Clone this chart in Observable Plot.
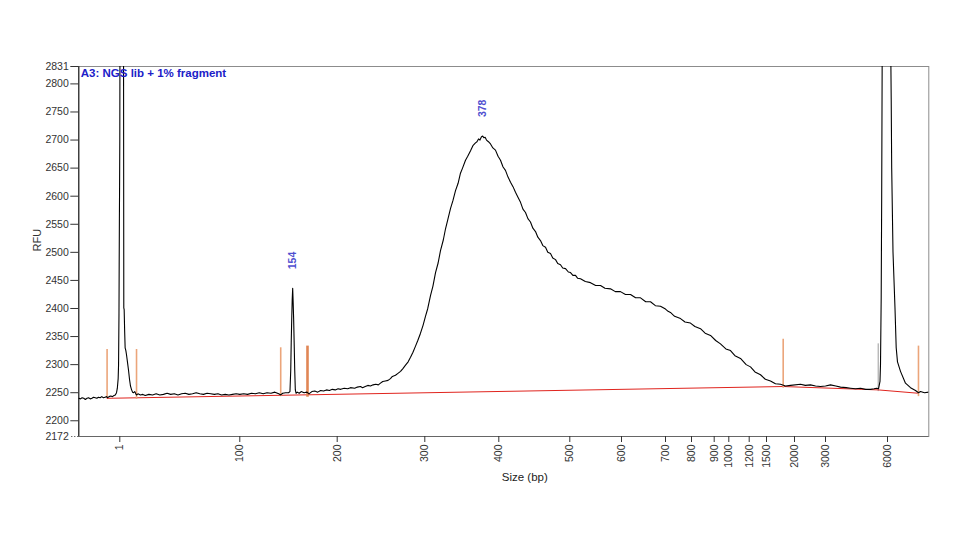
<!DOCTYPE html>
<html><head><meta charset="utf-8">
<script src="https://cdn.jsdelivr.net/npm/d3@7"></script>
<script src="https://cdn.jsdelivr.net/npm/@observablehq/plot@0.6"></script>
<style>html,body{margin:0;padding:0;background:#fff;} #chart svg{display:block}</style>
</head><body><div id="chart"></div>
<script>
// Size ladder (bp) used to calibrate the non-linear size axis
const ladderSize = [0, 1, 100, 200, 300, 400, 500, 600, 700, 800, 900, 1000, 1200, 1500, 2000, 3000, 6000, 9000];
const xTickSizes = [1, 100, 200, 300, 400, 500, 600, 700, 800, 900, 1000, 1200, 1500, 2000, 3000, 6000];
const yTicks = [2200, 2250, 2300, 2350, 2400, 2450, 2500, 2550, 2600, 2650, 2700, 2750, 2800, 2831];
const yMinTick = [2172];

// Electropherogram trace: [size (bp), RFU]
const trace = [
[0,2240],[0.04,2239],[0.08,2241],[0.12,2240],[0.16,2238],[0.2,2240],[0.24,2241],[0.28,2239],[0.32,2240],[0.36,2242],
[0.4,2241],[0.44,2240],[0.48,2242],[0.52,2241],[0.56,2243],[0.6,2241],[0.64,2242],[0.68,2243],[0.7,2241],[0.74,2243],
[0.78,2244],[0.82,2243],[0.86,2245],[0.89,2246],[0.92,2250],[0.94,2258],[0.96,2275],[0.97,2300],[0.98,2390],[0.985,2480],
[0.99,2560],[0.995,2620],[1,2700],[1.2,2950],[1.58,3200],[2.4,3250],[3.2,3200],[4,3050],[4.3,2401],[4.6,2398],
[5,2360],[5.4,2330],[6,2325],[6.5,2318],[7.3,2305],[8.2,2290],[9,2274],[9.8,2262],[10.6,2256],[11.5,2251],
[12.4,2250],[13.3,2252],[14.2,2248],[14.8,2246],[16,2248],[18,2246],[20,2247],[22,2245],[25,2247],[28,2246],
[31,2248],[34,2246],[37,2247],[40,2249],[43,2247],[46,2248],[49,2246],[52,2248],[55,2249],[58,2247],
[61,2248],[64,2250],[67,2248],[70,2247],[73,2249],[76,2248],[79,2247],[82,2248],[85,2246],[88,2247],
[91,2246],[94,2247],[97,2248],[100,2247],[104,2248],[108,2247],[112,2249],[116,2248],[120,2250],[124,2248],
[128,2250],[132,2249],[136,2251],[140,2248],[142,2246],[144,2249],[147,2250],[150,2250],[151.5,2252],[152.3,2290],
[152.8,2340],[153.3,2380],[153.8,2415],[154.3,2436],[154.8,2410],[155.3,2380],[155.8,2340],[156.4,2290],[157,2255],[157.8,2249],
[159,2251],[161,2249],[163,2252],[166,2250],[169,2251],[171,2248],[174,2252],[177,2253],[180,2251],[183,2254],
[186,2253],[189,2255],[192,2254],[195,2256],[198,2255],[201,2257],[204,2256],[208,2258],[212,2257],[215.2,2259],
[220,2258],[223,2260],[226.6,2261],[229,2259],[232,2261],[235,2263],[238,2262],[241,2264],[244,2265],[247,2264],
[249.4,2267],[252,2270],[255,2271],[258,2272],[260.8,2275],[263,2279],[266.5,2281],[269,2284],[272.3,2288],[275,2293],
[278,2299],[281,2305],[283.7,2313],[286.5,2322],[289.4,2333],[292,2343],[295.1,2356],[298,2370],[300.9,2386],[304,2400],
[307.7,2423],[311,2440],[314.5,2464],[318,2481],[321.2,2503],[325,2522],[328,2542],[331,2558],[334.7,2578],[338,2592],
[341.5,2610],[345,2623],[348.2,2641],[351,2650],[355,2664],[358,2671],[361.8,2681],[365,2690],[368.5,2695],[370.5,2697],
[372.6,2702],[374.5,2700],[376.6,2706],[378.2,2707],[380,2704],[381.5,2705],[383.4,2700],[386,2697],[388.8,2693],[392,2686],
[395.5,2682],[399,2671],[402.4,2664],[406,2652],[409.4,2646],[413,2634],[416.5,2625],[420,2617],[423.5,2607],[427,2598],
[430.6,2589],[434,2577],[437.6,2571],[441,2560],[444.6,2554],[448,2543],[451.7,2537],[455,2527],[458.7,2521],[462,2512],
[465.8,2509],[469,2500],[472.8,2498],[476,2490],[479.9,2487],[483,2480],[486.9,2478],[490,2472],[494,2471],[498,2465],
[501.4,2464],[506,2459],[511,2459],[515,2454],[520.7,2453],[530,2448],[540,2446],[550,2441],[559.4,2441],[568,2436],
[578.7,2435],[588,2430],[598,2430],[609,2425],[620.5,2425],[632,2419],[643.2,2419],[655,2412],[665.9,2412],[677,2405],
[688.6,2404],[700,2399],[710,2395],[719,2393],[735,2386],[757.7,2382],[775,2376],[796,2374],[815,2368],[839.6,2364],
[860,2356],[883.7,2352],[910,2343],[943,2337],[980,2328],[1016.7,2325],[1060,2316],[1114.7,2311],[1170,2300],[1222.5,2296],
[1300,2287],[1396,2282],[1480,2274],[1571,2271],[1660,2266],[1750,2265],[1840,2262],[1929,2263],
[2194,2265],[2350,2263],[2516,2264],[2680,2262],[2839,2261],[3000,2262],[3242,2264],[3500,2262],[3726,2260],[4000,2259],
[4210,2258],[4450,2257],[4694,2258],[4950,2256],[5177,2256],[5350,2257],[5468,2258],[5565,2257],[5637,2270],[5661,2300],
[5695,2420],[5719,2600],[5743,2850],[5758,3000],[5855,3400],[5952,3500],[6073,3400],[6182,3000],[6269,2774],[6305,2650],
[6400,2500],[6545,2400],[6632,2330],[6726,2305],[6944,2288],[7307,2267],[7671,2259],[8034,2254],[8252,2250],[8397,2252],
[8688,2250],[9000,2251]
];

// Baseline: [size, RFU]
const baseline = [[0.69, 2240], [1798, 2261], [5550, 2255], [8250, 2249]];

// Peak start/end markers
const markerSize = [0.69, 14.8, 142, 169.5, 1798, 8250];
const markerLow  = [2240, 2238, 2243, 2242, 2258, 2243];
const markerHigh = [2327, 2327, 2330, 2333, 2345, 2333];
const markerBold = [false, false, false, true, false, false];
const grayMarker = [[5550, 2252, 2337]];

// Called peaks
const peakSize = [154.3, 378.2];
const peakRFU = [2436, 2707];
const peakLabel = ["154", "378"];

const title = "A3: NGS lib + 1% fragment";

// ---- layout / calibration (pixel positions of ladder sizes) ----
const ladderPx = [78.3, 119.3, 239.3, 336.7, 424.3, 498.3, 569.3, 621, 665, 691, 713.7, 728.3, 748.7, 766, 794, 825, 887, 928.3];

const traceData = trace.map(([size, rfu]) => ({size, rfu}));
const baseData = baseline.map(([size, rfu]) => ({size, rfu}));
const markers = markerSize.map((s, i) => ({size: s, lo: markerLow[i], hi: markerHigh[i], bold: markerBold[i]}));
const grays = grayMarker.map(([size, lo, hi]) => ({size, lo, hi}));
const peaks = peakSize.map((s, i) => ({size: s, rfu: peakRFU[i], label: peakLabel[i]}));

const chart = Plot.plot({
  width: 960, height: 540,
  marginLeft: 78.3, marginRight: 31.7, marginTop: 66, marginBottom: 104,
  style: {fontFamily: "'Liberation Sans', Arial, sans-serif", fontSize: "10.5px", color: "#333", background: "#fff"},
  x: {type: "linear", domain: ladderSize, range: ladderPx},
  y: {type: "linear", domain: [2172, 2831]},
  marks: [
    Plot.frame({stroke: "#8c8c8c"}),
    Plot.ruleY(yMinTick, {stroke: "#666"}),
    Plot.ruleX([0], {stroke: "#111"}),
    Plot.axisY({ticks: yTicks, tickSize: 8, tickPadding: 2, label: null, tickFormat: d => String(d)}),
    Plot.axisY({ticks: yMinTick, tickSize: 8, tickPadding: 2, label: null, tickFormat: d => String(d), strokeDasharray: "1,2"}),
    Plot.axisX({ticks: xTickSizes, tickSize: 6, tickPadding: 2, tickRotate: -90, label: null, tickFormat: d => String(d)}),
    Plot.ruleX(grays, {x: "size", y1: "lo", y2: "hi", stroke: "#9a9a9a", strokeWidth: 1}),
    Plot.line(baseData, {x: "size", y: "rfu", stroke: "#e0241e", strokeWidth: 1}),
    Plot.ruleX(markers.filter(d => !d.bold), {x: "size", y1: "lo", y2: "hi", stroke: "#eba57a", strokeWidth: 1.6}),
    Plot.ruleX(markers.filter(d => d.bold), {x: "size", y1: "lo", y2: "hi", stroke: "#e08655", strokeWidth: 2.6}),
    Plot.line(traceData, {x: "size", y: "rfu", stroke: "#000", strokeWidth: 1.1, clip: true}),
    Plot.text(peaks, {x: "size", y: "rfu", text: "label", rotate: -90, textAnchor: "start", dy: -19, fill: "#4f4fd0", fontSize: 10.5, fontWeight: "bold"}),
    Plot.text([title], {frameAnchor: "top-left", dx: 2, dy: 2, fill: "#2020c8", fontSize: 11.5, fontWeight: "bold", textAnchor: "start"}),
    Plot.text(["RFU"], {frameAnchor: "left", dx: -41, rotate: -90, fontSize: 11, fill: "#333"}),
    Plot.text(["Size (bp)"], {frameAnchor: "bottom", dx: 21, dy: 44, fontSize: 11.5, fill: "#222"})
  ]
});
document.getElementById("chart").append(chart);
</script>
</body></html>
